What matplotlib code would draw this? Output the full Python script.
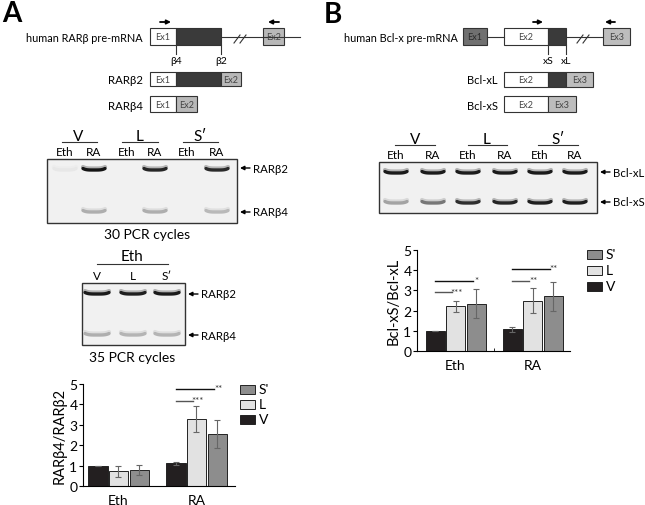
import numpy as np
import matplotlib.pyplot as plt
from matplotlib.patches import Rectangle

plt.rcParams['font.family'] = ['Lato', 'DejaVu Sans']

# -------------------------
# Quantification data
# -------------------------
groups = ["Eth", "RA"]
series = ["V", "L", "S'"]

rar_V = [1.00, 1.12]
rar_V_err = [0.00, 0.07]
rar_L = [0.72, 3.28]
rar_L_err = [0.27, 0.62]
rar_S = [0.77, 2.55]
rar_S_err = [0.25, 0.70]

bcl_V = [1.00, 1.08]
bcl_V_err = [0.00, 0.13]
bcl_L = [2.22, 2.50]
bcl_L_err = [0.27, 0.60]
bcl_S = [2.35, 2.70]
bcl_S_err = [0.72, 0.70]

# significance: (group, target series, line height, stars, colour)
rar_sig = [(1, 1, 4.17, "***", "#555555"), (1, 2, 4.75, "**", "#111111")]
bcl_sig = [(0, 1, 2.90, "***", "#555555"), (0, 2, 3.45, "*", "#111111"),
           (1, 1, 3.45, "**", "#555555"), (1, 2, 4.04, "**", "#111111")]

# gel band intensities (0 = none, 1 = strong)
gelA1_lanes = ["Eth", "RA", "Eth", "RA", "Eth", "RA"]
gelA1_b2 = [0.04, 1.00, 0.00, 0.92, 0.00, 0.90]
gelA1_b4 = [0.00, 0.30, 0.00, 0.30, 0.00, 0.25]
gelA2_lanes = ["V", "L", "S′"]
gelA2_b2 = [0.97, 0.95, 0.97]
gelA2_b4 = [0.30, 0.27, 0.27]
gelB_lanes = ["Eth", "RA", "Eth", "RA", "Eth", "RA"]
gelB_xL = [0.97, 0.97, 0.97, 0.97, 0.97, 0.97]
gelB_xS = [0.35, 0.55, 0.88, 0.92, 0.95, 0.95]

bar_colors = ["#231f20", "#e2e2e2", "#8d8d8d"]

fig = plt.figure(figsize=(6.45, 5.06), dpi=100)
ov = fig.add_axes([0, 0, 1, 1])
ov.set_xlim(0, 645)
ov.set_ylim(506, 0)
ov.axis("off")


def box(x0, x1, y0, y1, fc, label=None, tc="#444444"):
    ov.add_patch(Rectangle((x0, y0), x1 - x0, y1 - y0, fc=fc, ec="#333333", lw=0.8))
    if label:
        ov.text((x0 + x1) / 2, (y0 + y1) / 2, label, ha="center", va="center",
                fontsize=6.5, color=tc)


def primer(x0, x1, y):
    ov.annotate("", xy=(x1, y), xytext=(x0, y),
                arrowprops=dict(arrowstyle="-|>", lw=1.3, color="black",
                                mutation_scale=6, shrinkA=0, shrinkB=0))


def brk(x, y):
    for dx in (-3, 3):
        ov.plot([x + dx - 3, x + dx + 3], [y + 4, y - 4], color="#333333", lw=0.8)


def band(xc, y, inten, hw=11):
    g = 0.94 - 0.86 * inten
    xs = np.linspace(xc - hw, xc + hw, 30)
    ys = y - 1.5 * ((xs - xc) / hw) ** 4
    h = 0.94 - 0.25 * inten
    ov.plot(xs, ys - 1.5, color=(h, h, h), lw=3.0, solid_capstyle="round")
    ov.plot(xs, ys, color=(g, g, g), lw=2.4, solid_capstyle="round")


def gel(x0, x1, y0, y1):
    ov.add_patch(Rectangle((x0, y0), x1 - x0, y1 - y0, fc="#f1f1f1", ec="#333333", lw=1.0))


def gel_arrow(x, y, label):
    ov.annotate("", xy=(x, y), xytext=(x + 10, y),
                arrowprops=dict(arrowstyle="-|>", lw=1.0, color="black",
                                mutation_scale=6, shrinkA=0, shrinkB=0))
    ov.text(x + 13, y, label, ha="left", va="center", fontsize=8.2)


def header(xc, x0, x1, y, label, size=11):
    ov.text(xc, y, label, ha="center", va="center", fontsize=size)
    ov.plot([x0, x1], [y + 6, y + 6], color="#333333", lw=0.8)


# -------------------------
# Panel A: RAR beta schematic
# -------------------------
ov.text(2, 14, "A", fontsize=20, fontweight="bold", va="center", ha="left")
primer(160, 171, 23)
primer(279, 268, 23)
ov.text(143, 38, "human RARβ pre-mRNA", ha="right", va="center", fontsize=7.8)
ov.plot([221, 300], [37.5, 37.5], color="#333333", lw=0.8)
brk(240, 40)
box(150, 176, 29, 46, "white", "Ex1")
box(176, 221, 29, 46, "#3a3a3a")
box(263, 284, 29, 46, "#b8b8b8", "Ex2")
for x, lab in [(176, "β4"), (221, "β2")]:
    ov.plot([x, x], [46, 55], color="#333333", lw=0.8)
    ov.text(x, 61, lab, ha="center", va="center", fontsize=7.5)

ov.text(143, 80, "RARβ2", ha="right", va="center", fontsize=8.2)
box(150, 176, 73, 87, "white", "Ex1")
box(176, 221, 73, 87, "#3a3a3a")
box(221, 241, 73, 87, "#b8b8b8", "Ex2")
ov.text(143, 106, "RARβ4", ha="right", va="center", fontsize=8.2)
box(150, 176, 97, 113, "white", "Ex1")
box(176, 197, 97, 113, "#b8b8b8", "Ex2")

# gel A (30 cycles)
header(78, 62, 97, 137, "V")
header(140, 122, 158, 137, "L")
header(200, 183, 218, 137, "S′")
laneA1 = [65, 94, 127, 155, 187, 217]
for x, lab in zip(laneA1, gelA1_lanes):
    ov.text(x, 152, lab, ha="center", va="center", fontsize=8.5)
gel(47, 237, 160, 224)
for x, a, b in zip(laneA1, gelA1_b2, gelA1_b4):
    if a > 0:
        band(x, 171, a)
    if b > 0:
        band(x, 213, b)
gel_arrow(240, 169, "RARβ2")
gel_arrow(240, 213, "RARβ4")
ov.text(147, 235, "30 PCR cycles", ha="center", va="center", fontsize=10)

# gel A (35 cycles)
ov.text(132, 257, "Eth", ha="center", va="center", fontsize=11)
ov.plot([97, 168], [265, 265], color="#333333", lw=0.8)
laneA2 = [97, 133, 167]
for x, lab in zip(laneA2, gelA2_lanes):
    ov.text(x, 276, lab, ha="center", va="center", fontsize=8.5)
gel(82, 185, 284, 346)
for x, a, b in zip(laneA2, gelA2_b2, gelA2_b4):
    band(x, 295, a, hw=12)
    band(x, 336, b, hw=12)
gel_arrow(188, 295, "RARβ2")
gel_arrow(188, 336, "RARβ4")
ov.text(132, 358, "35 PCR cycles", ha="center", va="center", fontsize=10)

# -------------------------
# Panel B: Bcl-x schematic
# -------------------------
ov.text(324, 15, "B", fontsize=20, fontweight="bold", va="center", ha="left")
primer(533, 543, 23)
primer(615, 605, 23)
ov.text(458, 38, "human Bcl-x pre-mRNA", ha="right", va="center", fontsize=7.8)
ov.plot([487, 504], [37.5, 37.5], color="#333333", lw=0.8)
ov.plot([566, 603], [37.5, 37.5], color="#333333", lw=0.8)
brk(583, 40)
box(463, 487, 29, 46, "#707070", "Ex1", tc="#2a2a2a")
box(504, 548, 29, 46, "white", "Ex2")
box(548, 566, 29, 46, "#3a3a3a")
box(603, 630, 29, 46, "#bdbdbd", "Ex3")
for x, lab in [(548, "xS"), (566, "xL")]:
    ov.plot([x, x], [46, 55], color="#333333", lw=0.8)
    ov.text(x, 61, lab, ha="center", va="center", fontsize=7.5)

ov.text(498, 80, "Bcl-xL", ha="right", va="center", fontsize=8)
box(504, 548, 73, 88, "white", "Ex2")
box(548, 566, 73, 88, "#3a3a3a")
box(566, 593, 73, 88, "#bdbdbd", "Ex3")
ov.text(498, 106, "Bcl-xS", ha="right", va="center", fontsize=8)
box(504, 548, 97, 113, "white", "Ex2")
box(548, 576, 97, 113, "#bdbdbd", "Ex3")

# gel B
header(415, 395, 435, 140, "V")
header(487, 468, 507, 140, "L")
header(558, 538, 578, 140, "S′")
laneB = [396, 433, 468, 505, 540, 575]
for x, lab in zip(laneB, gelB_lanes):
    ov.text(x, 155, lab, ha="center", va="center", fontsize=8.5)
gel(379, 597, 163, 214)
for x, a, b in zip(laneB, gelB_xL, gelB_xS):
    band(x, 174, a)
    band(x, 204, b)
gel_arrow(600, 173, "Bcl-xL")
gel_arrow(600, 203, "Bcl-xS")


# -------------------------
# Bar charts
# -------------------------
def bar_chart(rect, xlim, vals, errs, sig, ylabel, minor_tick=False):
    ax = fig.add_axes(rect)
    x = np.arange(len(groups))
    offs = [-0.262, 0.0, 0.268]
    w = 0.245
    for k in range(3):
        ax.bar(x + offs[k], vals[k], w, color=bar_colors[k], edgecolor="#222222", lw=0.7,
               yerr=errs[k], ecolor="#666666", capsize=2,
               error_kw=dict(elinewidth=0.8, capthick=0.8))
    for g, t, h, stars, col in sig:
        x0 = g + offs[0]
        x1 = g + offs[t]
        ax.plot([x0, x1 - 0.04], [h, h], color=col, lw=1.0, clip_on=False)
        ax.text(x1 + 0.01, h + 0.02, stars, ha="center", va="center", fontsize=7, color="#333333")
    ax.set_xlim(*xlim)
    ax.set_ylim(0, 5)
    ax.set_yticks(range(6))
    ax.set_xticks(x)
    ax.set_xticklabels(groups, fontsize=10)
    ax.tick_params(axis="x", length=0, pad=6)
    ax.tick_params(axis="y", length=3, width=0.8, labelsize=10, pad=1)
    if minor_tick:
        ax.set_xticks([0.5], minor=True)
        ax.tick_params(axis="x", which="minor", length=2, direction="in")
    for s in ("top", "right"):
        ax.spines[s].set_visible(False)
    for s in ("left", "bottom"):
        ax.spines[s].set_linewidth(0.8)
    ax.set_ylabel(ylabel, fontsize=10.5, labelpad=2)
    return ax


bar_chart([83 / 645, (506 - 487) / 506, (235 - 83) / 645, (487 - 385) / 506],
          (-0.455, 1.494), [rar_V, rar_L, rar_S], [rar_V_err, rar_L_err, rar_S_err],
          rar_sig, "RARβ4/RARβ2")
bar_chart([417 / 645, (506 - 352) / 506, (570 - 417) / 645, (352 - 251) / 506],
          (-0.5, 1.487), [bcl_V, bcl_L, bcl_S], [bcl_V_err, bcl_L_err, bcl_S_err],
          bcl_sig, "Bcl-xS/Bcl-xL", minor_tick=True)

# legends
for (lx, ly0, dy) in [(240, 390, 15), (587, 255, 16)]:
    for k, (lab, col) in enumerate(zip(series[::-1], bar_colors[::-1])):
        y = ly0 + k * dy
        ov.add_patch(Rectangle((lx, y - 4.5), 15, 9, fc=col, ec="#222222", lw=0.7))
        ov.text(lx + 19, y, lab, ha="left", va="center", fontsize=10)

fig.savefig("out.png", dpi=100)
